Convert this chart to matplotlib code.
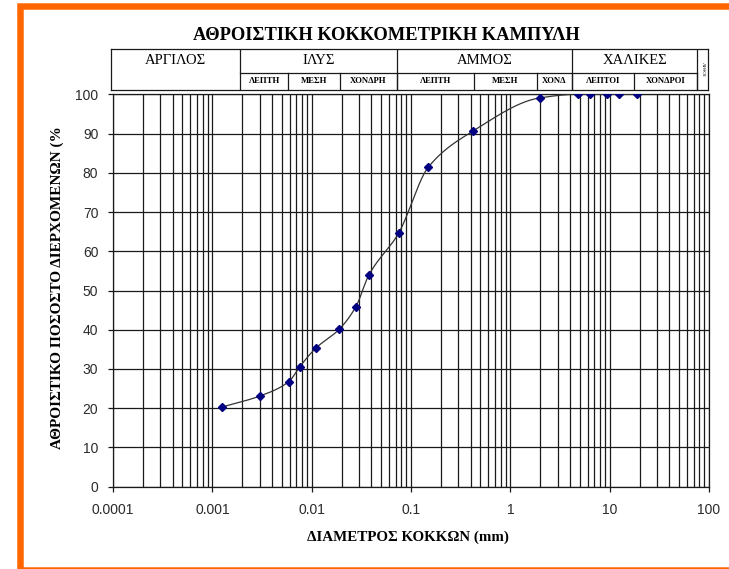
import numpy as np
import matplotlib
matplotlib.use("Agg")
import matplotlib.pyplot as plt
from matplotlib.patches import Rectangle
from matplotlib.ticker import LogLocator, FixedLocator, NullFormatter

# ---------------- data ----------------
diameter_mm = [0.00125, 0.0030, 0.0059, 0.0076, 0.0110, 0.0189, 0.0279, 0.0376,
               0.075, 0.15, 0.425, 2.0, 4.75, 6.3, 9.5, 12.5, 19.0]
percent_passing = [20.3, 23.1, 26.8, 30.6, 35.3, 40.1, 45.9, 53.9,
                   64.6, 81.5, 90.7, 99.1, 100, 100, 100, 100, 100]

x_tick_values = [0.0001, 0.001, 0.01, 0.1, 1, 10, 100]
x_tick_labels = ["0.0001", "0.001", "0.01", "0.1", "1", "10", "100"]
y_tick_values = [0, 10, 20, 30, 40, 50, 60, 70, 80, 90, 100]

title = "ΑΘΡΟΙΣΤΙΚΗ ΚΟΚΚΟΜΕΤΡΙΚΗ ΚΑΜΠΥΛΗ"
x_label = "ΔΙΑΜΕΤΡΟΣ ΚΟΚΚΩΝ (mm)"
y_label = "ΑΘΡΟΙΣΤΙΚΟ ΠΟΣΟΣΤΟ ΔΙΕΡΧΟΜΕΝΩΝ (%"

# soil classes (header table) and their bounds in mm
soil_classes = ["ΑΡΓΙΛΟΣ", "ΙΛΥΣ", "ΑΜΜΟΣ", "ΧΑΛΙΚΕΣ", "ΛΙΘΟΙ"]
class_bounds = [0.0000948, 0.0019, 0.072, 4.18, 75, 97]
# sub-classes and their bounds in mm
sub_names = ["ΛΕΠΤΗ", "ΜΕΣΗ", "ΧΟΝΔΡΗ", "ΛΕΠΤΗ", "ΜΕΣΗ", "ΧΟΝΔ", "ΛΕΠΤΟΙ", "ΧΟΝΔΡΟΙ"]
sub_bounds = [(0.0019, 0.0058), (0.0058, 0.0192), (0.0192, 0.072),
              (0.072, 0.43), (0.43, 1.83), (1.83, 4.18),
              (4.18, 17.4), (17.4, 75)]

# ---------------- helpers ----------------
def pchip(xk, yk, xs):
    xk = np.asarray(xk, float); yk = np.asarray(yk, float)
    h = np.diff(xk); dlt = np.diff(yk) / h
    n = len(xk); m = np.zeros(n)
    for k in range(1, n - 1):
        if dlt[k - 1] * dlt[k] > 0:
            w1 = 2 * h[k] + h[k - 1]; w2 = h[k] + 2 * h[k - 1]
            m[k] = (w1 + w2) / (w1 / dlt[k - 1] + w2 / dlt[k])
    m[0] = dlt[0]; m[-1] = dlt[-1]
    out = np.empty_like(xs)
    for i, x in enumerate(xs):
        k = min(max(np.searchsorted(xk, x) - 1, 0), n - 2)
        t = (x - xk[k]) / h[k]
        h00 = 2*t**3 - 3*t**2 + 1; h10 = t**3 - 2*t**2 + t
        h01 = -2*t**3 + 3*t**2; h11 = t**3 - t**2
        out[i] = h00*yk[k] + h10*h[k]*m[k] + h01*yk[k+1] + h11*h[k]*m[k+1]
    return out

W, H = 729, 569
fig = plt.figure(figsize=(W / 100, H / 100), dpi=100)
fig.patch.set_facecolor("white")

SERIF = ["Liberation Serif", "DejaVu Serif"]
SANS = ["Liberation Sans", "DejaVu Sans"]
GRID_C = "#1a1a1a"

# ---------------- main axes ----------------
ax = fig.add_axes([113 / W, 1 - 486.7 / H, (709 - 113) / W, (486.7 - 94.3) / H])
ax.set_xscale("log")
ax.set_xlim(1e-4, 100)
ax.set_ylim(0, 100)

ax.xaxis.set_major_locator(FixedLocator(x_tick_values))
ax.set_xticklabels(x_tick_labels)
ax.xaxis.set_minor_locator(LogLocator(base=10, subs=np.arange(2, 10), numticks=50))
ax.xaxis.set_minor_formatter(NullFormatter())
ax.set_yticks(y_tick_values)

ax.grid(which="both", axis="x", color=GRID_C, linewidth=0.9)
ax.grid(which="major", axis="y", color=GRID_C, linewidth=0.9)
ax.set_axisbelow(True)
for s in ax.spines.values():
    s.set_color(GRID_C)
    s.set_linewidth(0.9)

ax.tick_params(axis="both", which="major", direction="out", length=3.6, width=0.9,
               color=GRID_C, labelsize=10, labelcolor="#2a2a2a")
ax.tick_params(axis="x", which="major", pad=8)
ax.tick_params(axis="y", which="major", pad=7)
ax.tick_params(axis="x", which="minor", length=0)
for lab in ax.get_xticklabels() + ax.get_yticklabels():
    lab.set_family(SANS)

lx = np.log10(diameter_mm)
xs = np.linspace(lx[0], lx[-1], 600)
ys = pchip(lx, percent_passing, xs)
ax.plot(10 ** xs, ys, color="#333333", linewidth=0.9, zorder=3)
ax.plot(diameter_mm, percent_passing, linestyle="none", marker="D",
        markersize=4.0, color="#000080", markeredgecolor="#000080", zorder=4)

# ---------------- header table ----------------
tl, tr = 110.7, 708.0
tax = fig.add_axes([tl / W, 1 - 89.5 / H, (tr - tl) / W, (89.5 - 48.8) / H])
tax.set_xscale("log")
tax.set_xlim(10 ** (-4 - 2.3 / 99.4), 10 ** (-4 + (tr - 113) / 99.4))
tax.set_ylim(0, 1)
tax.set_xticks([]); tax.set_yticks([])
tax.minorticks_off()
for s in tax.spines.values():
    s.set_color(GRID_C); s.set_linewidth(0.9)
mid = (89.5 - 73.3) / (89.5 - 48.8)
for b in class_bounds[1:-1]:
    tax.plot([b, b], [0, 1], color=GRID_C, linewidth=0.9)
tax.plot([class_bounds[1], class_bounds[4]], [mid, mid], color=GRID_C, linewidth=0.9)
for lo, hi in sub_bounds:
    tax.plot([hi, hi], [0, mid], color=GRID_C, linewidth=0.9)
top_c = (1 + mid) / 2 + 0.02
for i, name in enumerate(soil_classes):
    lo, hi = class_bounds[i], class_bounds[i + 1]
    xc = 10 ** ((np.log10(lo) + np.log10(hi)) / 2)
    if name == "ΛΙΘΟΙ":
        tax.text(xc, 0.5, name, rotation=270, ha="center", va="center",
                 fontsize=3.8, family=SERIF)
    else:
        tax.text(xc, top_c, name, ha="center", va="center", fontsize=10.5, family=SERIF)
for name, (lo, hi) in zip(sub_names, sub_bounds):
    xc = 10 ** ((np.log10(lo) + np.log10(hi)) / 2)
    tax.text(xc, mid / 2, name, ha="center", va="center", fontsize=6.2,
             fontweight="bold", family=SERIF)

# ---------------- titles ----------------
fig.text(386 / W, 1 - 36 / H, title, ha="center", va="center", fontsize=13.3,
         fontweight="bold", family=SERIF)
fig.text(408 / W, 1 - 537 / H, x_label, ha="center", va="center", fontsize=10.8,
         fontweight="bold", family=SERIF)
fig.text(57 / W, 1 - 288 / H, y_label, ha="center", va="center", rotation=90,
         fontsize=11, fontweight="bold", family=SERIF)

# ---------------- orange frame ----------------
lw_px = 6.5
fig.patches.append(Rectangle((20 / W, -1 / H), 1.2, (H - 5.5 + 1) / H,
                             transform=fig.transFigure, fill=False,
                             edgecolor="#FF6600", linewidth=lw_px * 0.72,
                             clip_on=False))

fig.savefig("out.png", dpi=100)
